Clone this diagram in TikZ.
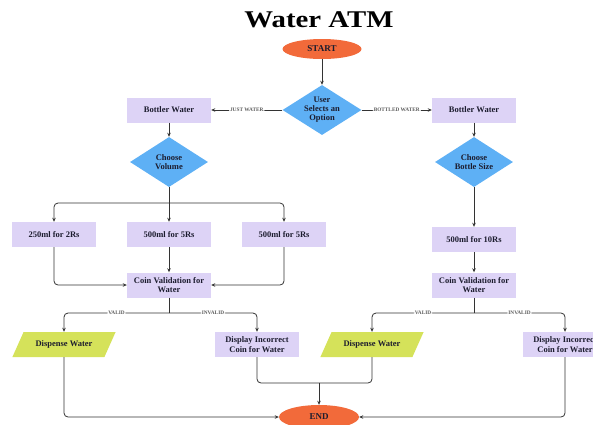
\documentclass[tikz,border=0pt]{standalone}
\usepackage{fontspec}
\setmainfont{Liberation Serif}
\newfontfamily\titlefont[FakeStretch=1.2]{Liberation Serif}
\usetikzlibrary{shapes.geometric,arrows.meta}
\definecolor{lav}{HTML}{DDD3F6}
\definecolor{dblue}{HTML}{5EB0F5}
\definecolor{oval}{HTML}{F26A3A}
\definecolor{lime}{HTML}{D5E25A}
\definecolor{ink}{HTML}{1C1C2E}
\definecolor{wire}{HTML}{333333}
\tikzset{
  every node/.style={text=ink},
  txt/.style={font=\bfseries\fontsize{8.5}{9.5}\selectfont, align=center},
  proc/.style={txt, rectangle, fill=lav, minimum width=84pt, minimum height=25pt, inner sep=1pt},
  dec/.style={txt, diamond, fill=dblue, inner sep=0pt, shape aspect=1.6},
  term/.style={ellipse, fill=oval, font=\bfseries\fontsize{9}{10}\selectfont, inner sep=0pt},
  io/.style={txt, trapezium, trapezium left angle=50, trapezium right angle=130, trapezium stretches=true, fill=lime, minimum width=104pt, minimum height=25pt, inner sep=1pt},
  conn/.style={draw=wire, line width=0.8pt, -{Stealth[length=4pt,width=3.5pt]}, rounded corners=4pt},
  plain/.style={draw=wire, line width=0.8pt, rounded corners=4pt},
  lab/.style={font=\bfseries\fontsize{5.3}{6}\selectfont, fill=white, inner sep=1pt, text=wire!80}
}
\begin{document}
\begin{tikzpicture}[x=1pt,y=-1pt]
\useasboundingbox (0,0) rectangle (593,424);
\node[font=\titlefont\bfseries\fontsize{24}{28}\selectfont, text=black] (title) at (319,20) {Water ATM};
\node[term, minimum width=79pt, minimum height=20pt] (start) at (322,49) {START};
\node[dec, font=\bfseries\fontsize{8.5}{9}\selectfont, minimum width=79pt, minimum height=50pt] (user) at (322,110) {User\\Selects an\\Option};
\node[proc] (bwl) at (169,110) {Bottler Water};
\node[proc] (bwr) at (474,110) {Bottler Water};
\node[dec, minimum width=78pt, minimum height=50pt] (cvol) at (169,162) {Choose\\Volume};
\node[dec, minimum width=78pt, minimum height=50pt] (cbot) at (474,162) {Choose\\Bottle Size};
\node[proc] (b1) at (54,234.5) {250ml for 2Rs};
\node[proc] (b2) at (169,234.5) {500ml for 5Rs};
\node[proc] (b3) at (284,234.5) {500ml for 5Rs};
\node[proc] (b4) at (474,239.5) {500ml for 10Rs};
\node[proc] (cvl) at (169,285) {Coin Validation for\\Water};
\node[proc] (cvr) at (474,285) {Coin Validation for\\Water};
\node[io] (dwl) at (64,344.5) {Dispense Water};
\node[io] (dwr) at (372,344.5) {Dispense Water};
\node[proc] (dil) at (257,344.5) {Display Incorrect\\Coin for Water};
\node[proc] (dir) at (565,344.5) {Display Incorrect\\Coin for Water};
\node[term, minimum width=80pt, minimum height=24pt] (endn) at (319,417) {END};
\coordinate (j1) at (169,203);
\coordinate (j2) at (169,313);
\coordinate (j3) at (474,313);
\coordinate (j4) at (319,383);
% connectors
\draw[conn] (start) -- (user);
\draw[conn] (user.west) -- node[lab]{JUST WATER} (bwl.east);
\draw[conn] (user.east) -- node[lab]{BOTTLED WATER} (bwr.west);
\draw[conn] (bwl) -- (cvol);
\draw[plain] (cvol.south) -- (j1);
\draw[conn] (j1) -| (b1.north);
\draw[conn] (j1) -- (b2.north);
\draw[conn] (j1) -| (b3.north);
\draw[conn] (b2) -- (cvl);
\draw[conn] (b1.south) |- (cvl.west);
\draw[conn] (b3.south) |- (cvl.east);
\draw[plain] (cvl.south) -- (j2);
\draw[conn] (j2) -| node[lab, pos=0.25]{VALID} (dwl.north);
\draw[conn] (j2) -| node[lab, pos=0.25]{INVALID} (dil.north);
\draw[conn] (bwr) -- (cbot);
\draw[conn] (cbot) -- (b4);
\draw[conn] (b4) -- (cvr);
\draw[plain] (cvr.south) -- (j3);
\draw[conn] (j3) -| node[lab, pos=0.25]{VALID} (dwr.north);
\draw[conn] (j3) -| node[lab, pos=0.25]{INVALID} (dir.north);
\draw[conn] (dwl.south) |- (endn.west);
\draw[conn] (dir.south) |- (endn.east);
\draw[plain] (dil.south) |- (j4);
\draw[plain] (dwr.south) |- (j4);
\draw[conn] (j4) -- (endn.north);
\end{tikzpicture}
\end{document}
